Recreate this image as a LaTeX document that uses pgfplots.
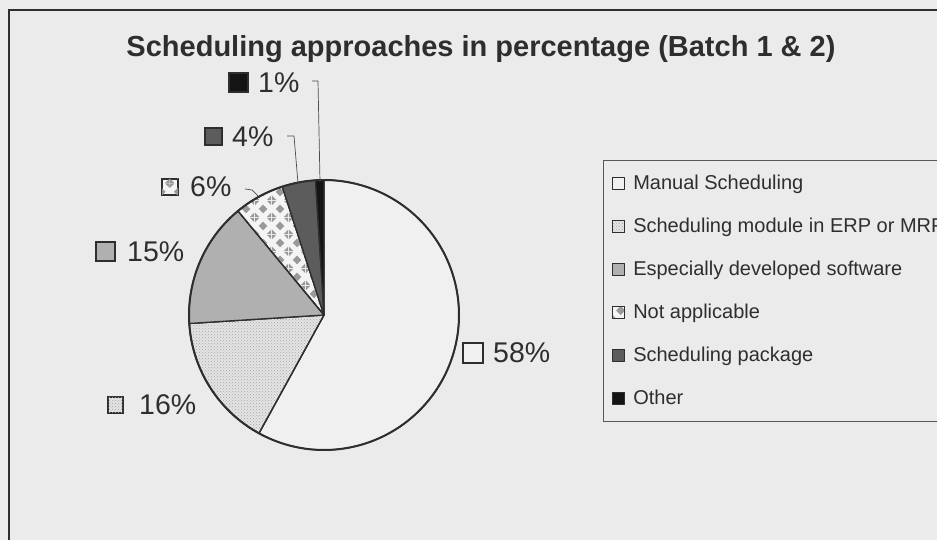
\documentclass[border=0pt]{standalone}
\usepackage{pgfplots}
\pgfplotsset{compat=1.18}
\usepackage{pgfplotstable}
\usepackage{fontspec}
\setmainfont{Liberation Sans}
\usetikzlibrary{patterns}

\definecolor{bg}{HTML}{EBEBEB}
\definecolor{ink}{HTML}{2E2E2E}
\definecolor{cManual}{HTML}{F0F0F0}
\definecolor{cERP}{HTML}{E4E4E4}
\definecolor{cSpec}{HTML}{B0B0B0}
\definecolor{cNA}{HTML}{F4F4F4}
\definecolor{cPkg}{HTML}{5C5C5C}
\definecolor{cOther}{HTML}{141414}

\pgfdeclarepatternformonly{mydiamonds}{\pgfqpoint{0pt}{0pt}}{\pgfqpoint{17pt}{17pt}}{\pgfqpoint{17pt}{17pt}}{%
  \pgfpathmoveto{\pgfqpoint{8.5pt}{4pt}}\pgfpathlineto{\pgfqpoint{13pt}{8.5pt}}%
  \pgfpathlineto{\pgfqpoint{8.5pt}{13pt}}\pgfpathlineto{\pgfqpoint{4pt}{8.5pt}}\pgfpathclose
  \pgfpathmoveto{\pgfqpoint{0pt}{0pt}}\pgfpathlineto{\pgfqpoint{4.5pt}{0pt}}\pgfpathlineto{\pgfqpoint{0pt}{4.5pt}}\pgfpathclose
  \pgfpathmoveto{\pgfqpoint{17pt}{0pt}}\pgfpathlineto{\pgfqpoint{12.5pt}{0pt}}\pgfpathlineto{\pgfqpoint{17pt}{4.5pt}}\pgfpathclose
  \pgfpathmoveto{\pgfqpoint{0pt}{17pt}}\pgfpathlineto{\pgfqpoint{4.5pt}{17pt}}\pgfpathlineto{\pgfqpoint{0pt}{12.5pt}}\pgfpathclose
  \pgfpathmoveto{\pgfqpoint{17pt}{17pt}}\pgfpathlineto{\pgfqpoint{12.5pt}{17pt}}\pgfpathlineto{\pgfqpoint{17pt}{12.5pt}}\pgfpathclose
  \pgfusepath{fill}}

\pgfplotstableread[col sep=comma]{
label,pct
Manual Scheduling,58
Scheduling module in ERP or MRP,16
Especially developed software,15
Not applicable,6
Scheduling package,4
Other,1
}\piedata

\tikzset{
  wedge/.style={draw=ink, line width=1.3pt, line join=round},
  slice0/.style={fill=cManual},
  slice1/.style={fill=cERP, postaction={pattern=crosshatch dots, pattern color=gray!70}},
  slice2/.style={fill=cSpec},
  slice3/.style={fill=cNA, postaction={pattern=mydiamonds, pattern color=gray!80}},
  slice4/.style={fill=cPkg},
  slice5/.style={fill=cOther},
  pct/.style={anchor=west, inner sep=0pt, text=ink, font=\fontsize{28.5}{31}\selectfont},
  keybox/.style={draw=ink, line width=1.1pt},
}

\begin{document}
\begin{tikzpicture}
\useasboundingbox (0,0) rectangle (937pt,540pt);
\fill[bg] (0,0) rectangle (937pt,540pt);
\begin{axis}[
  at={(0,0)}, anchor=south west, scale only axis,
  width=937pt, height=540pt,
  xmin=0, xmax=937, ymin=0, ymax=540,
  hide axis, clip=false, no marks,
  legend style={at={(0.6435,0.7037)}, anchor=north west, draw=ink!80, line width=0.8pt,
    fill=none, font=\fontsize{20}{23}\selectfont, text=ink,
    row sep=23pt, inner xsep=9pt, inner ysep=13pt, cells={anchor=west},
    /tikz/every odd column/.append style={column sep=6pt}},
  legend image code/.code={\draw[#1, line width=0.9pt, draw=ink] (0pt,-6pt) rectangle (12pt,6pt);},
]
\pgfplotstablegetrowsof{\piedata}
\pgfmathtruncatemacro\nrows{\pgfplotsretval-1}
\xdef\cum{90}
\pgfplotsforeachungrouped \i in {0,...,\nrows}{%
  \pgfplotstablegetelem{\i}{pct}\of\piedata \let\p\pgfplotsretval
  \pgfplotstablegetelem{\i}{label}\of\piedata \let\lab\pgfplotsretval
  \pgfmathsetmacro\stop{\cum-3.6*\p}%
  \edef\cmd{\noexpand\addplot[wedge, slice\i, domain=\stop:\cum, samples=90] ({324+135*cos(x)},{225+135*sin(x)}) -- (axis cs:324,225) -- cycle; \noexpand\addlegendentry{\lab}}%
  \cmd
  \xdef\cum{\stop}%
}
\addplot[forget plot, draw=ink, line width=2pt, domain=0:360, samples=200] ({324+135*cos(x)},{225+135*sin(x)});
% leader lines
\addplot[forget plot, draw=gray!60!black, line width=0.7pt] coordinates {(312,459) (318,459) (320,358)};
\addplot[forget plot, draw=gray!60!black, line width=0.7pt] coordinates {(287,404) (294,404) (298,357)};
\addplot[forget plot, draw=gray!60!black, line width=0.7pt] coordinates {(245,351) (252,350) (258,344)};
% frame
\draw[ink, line width=2pt] (axis cs:9,-5) -- (axis cs:9,530) -- (axis cs:945,530);
% title
\node[anchor=base, text=ink, font=\fontsize{29}{32}\selectfont\bfseries] at (axis cs:481,483) {Scheduling approaches in percentage (Batch 1 \& 2)};
% data labels
\draw[keybox, slice5] (axis cs:229,448) rectangle (axis cs:248,467);
\node[pct] at (axis cs:258,457.5) {1\%};
\draw[keybox, slice4] (axis cs:205,395) rectangle (axis cs:222,412);
\node[pct] at (axis cs:232,403.5) {4\%};
\draw[keybox, slice3] (axis cs:162,345) rectangle (axis cs:178,361);
\node[pct] at (axis cs:190,353) {6\%};
\draw[keybox, slice2] (axis cs:96,279) rectangle (axis cs:115,298);
\node[pct] at (axis cs:127,288.5) {15\%};
\draw[keybox, slice1] (axis cs:108,127) rectangle (axis cs:123,143);
\node[pct] at (axis cs:139,135) {16\%};
\draw[keybox, slice0] (axis cs:463,177) rectangle (axis cs:483,197);
\node[pct] at (axis cs:493,187) {58\%};
\end{axis}
\end{tikzpicture}
\end{document}
